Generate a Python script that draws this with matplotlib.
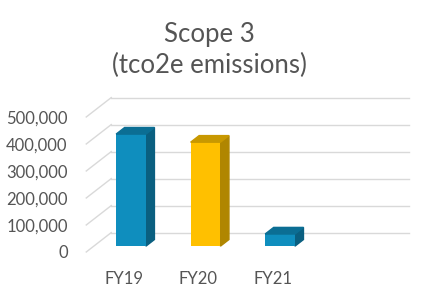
import matplotlib
matplotlib.use("Agg")
import matplotlib.pyplot as plt
from matplotlib.patches import Polygon
from matplotlib.ticker import FuncFormatter

years = ["FY19", "FY20", "FY21"]
emissions = [415000, 385000, 45000]
front_colors = ["#0F8EBE", "#FFC000", "#0F8EBE"]
side_colors = ["#0A5F80", "#B08600", "#0A5F80"]
top_colors = ["#0B6E94", "#C89800", "#0B6E94"]
ticks = [0, 100000, 200000, 300000, 400000, 500000]

plt.rcParams['font.family'] = ['Lato', 'DejaVu Sans']
text_col = "#555555"
grid_col = "#d9d9d9"

# depth of the fake 3d box, in data units
DX = 0.336
DY = 72000
f = 0.30      # depth where bars start
d = 0.34      # depth of the bars
w = 0.40

fig = plt.figure(figsize=(4.25, 2.96), dpi=100)
ax = fig.add_axes([0.1854, 0.1213, 0.789, 0.5747])
ax.set_xlim(-0.6, 3.9)
ax.set_ylim(-30000, 600000)

# back wall grid + floor diagonals
for t in ticks:
    ax.plot([-0.5, -0.5 + DX], [t, t + DY], color=grid_col, lw=1, zorder=1)
    ax.plot([-0.5 + DX, 3.5 + DX], [t + DY, t + DY], color=grid_col, lw=1, zorder=1)

base = f * DY
for i, v in enumerate(emissions):
    x0 = i + f * DX - w / 2
    x1 = x0 + w
    ax.bar(x0 + w / 2, v, width=w, bottom=base, color=front_colors[i], zorder=3)
    side = [(x1, base), (x1 + d * DX, base + d * DY),
            (x1 + d * DX, base + d * DY + v), (x1, base + v)]
    ax.add_patch(Polygon(side, closed=True, color=side_colors[i], zorder=2))
    top = [(x0, base + v), (x1, base + v),
           (x1 + d * DX, base + v + d * DY), (x0 + d * DX, base + v + d * DY)]
    ax.add_patch(Polygon(top, closed=True, color=top_colors[i], zorder=4))

ax.set_yticks(ticks)
ax.yaxis.set_major_formatter(FuncFormatter(lambda v, p: f"{int(v):,}"))
ax.set_xticks(range(len(years)))
ax.set_xticklabels(years)
ax.tick_params(axis='y', length=0, pad=8, labelsize=12, labelcolor=text_col)
ax.tick_params(axis='x', length=0, pad=8, labelsize=12, labelcolor=text_col)
for s in ax.spines.values():
    s.set_visible(False)

fig.text(0.493, 0.83, "Scope 3\n(tco2e emissions)", ha='center', va='center',
         fontsize=18.5, color=text_col, linespacing=1.3)

fig.savefig("out.png", dpi=100)
